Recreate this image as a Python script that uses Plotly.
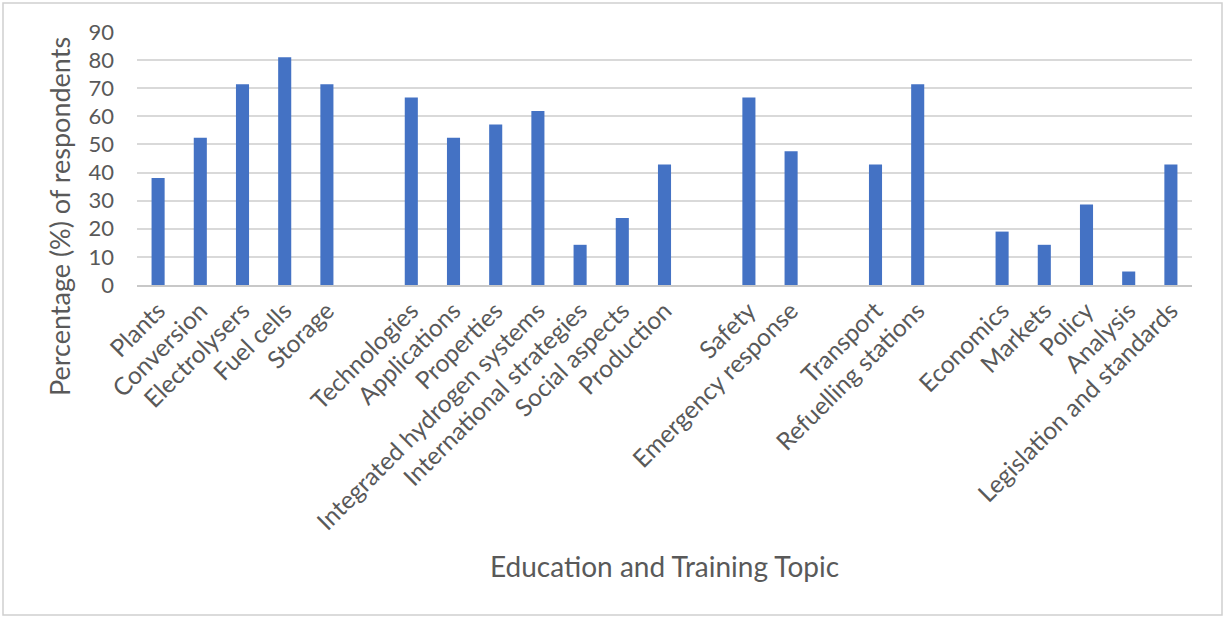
import plotly.graph_objects as go

# Topic groups (blank slots separate the groups on the category axis)
group_1 = ["Plants", "Conversion", "Electrolysers", "Fuel cells", "Storage"]
values_1 = [38.1, 52.4, 71.4, 81.0, 71.4]
group_2 = ["Technologies", "Applications", "Properties", "Integrated hydrogen systems",
           "International strategies", "Social aspects", "Production"]
values_2 = [66.7, 52.4, 57.1, 61.9, 14.3, 23.8, 42.9]
group_3 = ["Safety", "Emergency response"]
values_3 = [66.7, 47.6]
group_4 = ["Transport", "Refuelling stations"]
values_4 = [42.9, 71.4]
group_5 = ["Economics", "Markets", "Policy", "Analysis", "Legislation and standards"]
values_5 = [19.0, 14.3, 28.6, 4.8, 42.9]

y_ticks = [0, 10, 20, 30, 40, 50, 60, 70, 80, 90]
x_title = "Education and Training Topic"
y_title = "Percentage (%) of respondents"

groups = [(group_1, values_1), (group_2, values_2), (group_3, values_3),
          (group_4, values_4), (group_5, values_5)]
categories, values = [], []
for i, (g, v) in enumerate(groups):
    if i > 0:
        categories.append(" " * i)  # unique blank slot
        values.append(None)
    categories.extend(g)
    values.extend(v)

text_color = "#595959"
font_family = "Lato, Open Sans, DejaVu Sans, sans-serif"

PW, PH = 1055, 253  # plot area size in px

fig = go.Figure(go.Bar(
    x=categories, y=values,
    marker=dict(color="#4472C4", line=dict(width=0)),
    hoverinfo="x+y",
))

fig.update_layout(
    width=1225, height=618,
    margin=dict(l=137, r=33, t=32, b=333, autoexpand=False),
    paper_bgcolor="white", plot_bgcolor="white",
    bargap=0.69,
    showlegend=False,
    font=dict(family=font_family, color=text_color),
    xaxis=dict(
        type="category",
        categoryorder="array", categoryarray=categories,
        tickangle=-45,
        tickfont=dict(size=24.5, color=text_color),
        showgrid=False, ticks="",
        showline=True, linecolor="#c8c8c8", linewidth=1.5,
        automargin=False,
    ),
    yaxis=dict(
        range=[0, 90], tickvals=y_ticks,
        tickfont=dict(size=22, color=text_color),
        showgrid=True, gridcolor="#d9d9d9", gridwidth=1.5,
        zeroline=False, showline=False, ticks="",
        ticklabelstandoff=22,
        automargin=False,
    ),
    annotations=[
        dict(text=x_title, xref="paper", yref="paper",
             x=(664.5 - 137) / PW, y=(285 - 566) / PH,
             xanchor="center", yanchor="middle", showarrow=False,
             font=dict(size=28, color=text_color)),
        dict(text=y_title, xref="paper", yref="paper", textangle=-90,
             x=(59 - 137) / PW, y=(285 - 217) / PH,
             xanchor="center", yanchor="middle", showarrow=False,
             font=dict(size=27, color=text_color)),
    ],
    shapes=[dict(type="rect", xref="paper", yref="paper",
                 x0=-134 / PW, x1=(PW + 30) / PW, y0=-330 / PH, y1=(PH + 29) / PH,
                 line=dict(color="#d0d0d0", width=1.5), fillcolor="rgba(0,0,0,0)")],
)

fig.write_html("out.html")
